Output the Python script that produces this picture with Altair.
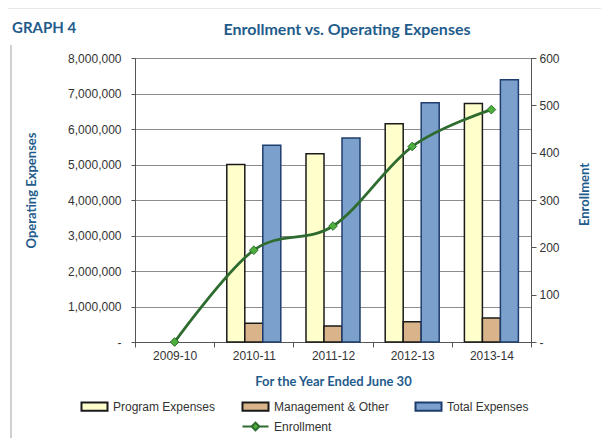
import altair as alt
import pandas as pd

years = ["2009-10", "2010-11", "2011-12", "2012-13", "2013-14"]
bar_years = ["2010-11", "2011-12", "2012-13", "2013-14"]
program = [5000000, 5300000, 6150000, 6720000]
management = [530000, 450000, 570000, 675000]
total = [5540000, 5750000, 6740000, 7390000]
enrollment = [0, 194, 245, 413, 491]

series = ["Program Expenses", "Management & Other", "Total Expenses", " ", "Enrollment"]
fills = ["#FFFFCC", "#D9B48A", "#7BA0CB", "transparent", "#4CAF3C"]
strokes = ["#1A1A1A", "#1A1A1A", "#1F3D6E", "transparent", "#2E6B2E"]
rect_path = "M-1.4,-0.45H1.4V0.45H-1.4Z"
line_path = "M-1.4,0H-0.42L0,-0.42L0.42,0L0,0.42L-0.42,0ZM0.42,0H1.4"
shapes = [rect_path, rect_path, rect_path, rect_path, line_path]

rows = []
for i, y in enumerate(bar_years):
    rows.append({"year": y, "series": series[0], "value": program[i]})
    rows.append({"year": y, "series": series[1], "value": management[i]})
    rows.append({"year": y, "series": series[2], "value": total[i]})
bars_df = pd.DataFrame(rows)
enr_df = pd.DataFrame({"year": years, "enrollment": enrollment})

BLUE = "#1F5C8C"
LABEL_FONT = "Liberation Sans"
TITLE_FONT = "Lato"

x_enc = alt.X("year:N", scale=alt.Scale(domain=years, paddingInner=0, paddingOuter=0),
              axis=alt.Axis(title="For the Year Ended June 30", labelAngle=0, tickBand="extent",
                            titleY=39, titleBaseline="middle", labelPadding=3, tickSize=5))

fill_scale = alt.Scale(domain=series, range=fills)
stroke_scale = alt.Scale(domain=series, range=strokes)

bars = alt.Chart(bars_df).mark_bar(strokeWidth=1.5).encode(
    x=x_enc,
    xOffset=alt.XOffset("series:N", scale=alt.Scale(domain=series[:3], paddingInner=0, paddingOuter=0.7)),
    y=alt.Y("value:Q", scale=alt.Scale(domain=[0, 8000000], nice=False),
            axis=alt.Axis(title="Operating Expenses", values=list(range(0, 8000001, 1000000)),
                          labelExpr="datum.value == 0 ? '-' : format(datum.value, ',')",
                          grid=True, gridColor="#8C8C8C", tickSize=4, labelPadding=10,
                          titleX=-104, titleY=132, titleAngle=270, titleBaseline="middle",
                          titleAlign="center")),
    fill=alt.Fill("series:N", scale=fill_scale, legend=alt.Legend(title=None)),
    stroke=alt.Stroke("series:N", scale=stroke_scale, legend=alt.Legend(title=None)),
    strokeWidth=alt.StrokeWidth("series:N", scale=alt.Scale(domain=series[:3], range=[1.5, 1.5, 3]), legend=None),
)

line = alt.Chart(enr_df).mark_line(color="#2E6B2E", strokeWidth=2.8, interpolate="cardinal").encode(
    x=alt.X("year:N"),
    y=alt.Y("enrollment:Q", scale=alt.Scale(domain=[0, 600], nice=False),
            axis=alt.Axis(title="Enrollment", orient="right", values=list(range(0, 601, 100)),
                          labelExpr="datum.value == 0 ? '-' : format(datum.value, ',')",
                          grid=False, tickSize=5, labelPadding=3,
                          titleX=53, titleY=136, titleAngle=270, titleBaseline="middle",
                          titleAlign="center")),
)
points = alt.Chart(enr_df).mark_point(shape="diamond", filled=True, size=75, fill="#4CAF3C",
                                      stroke="#2E6B2E", strokeWidth=1, opacity=1).encode(
    x=alt.X("year:N"),
    y=alt.Y("enrollment:Q"),
)

legend_layer = alt.Chart(enr_df).transform_filter("false").mark_point(filled=True, opacity=1).encode(
    fill=alt.Fill("series:N", scale=fill_scale, legend=alt.Legend(title=None)),
    stroke=alt.Stroke("series:N", scale=stroke_scale, legend=alt.Legend(title=None)),
    shape=alt.Shape("series:N", scale=alt.Scale(domain=series, range=shapes), legend=alt.Legend(title=None)),
)

label_df = pd.DataFrame({"t": ["GRAPH 4"]})
title_df = pd.DataFrame({"t": ["Enrollment vs. Operating Expenses"]})
graph_label = alt.Chart(label_df).mark_text(align="left", baseline="middle", font=TITLE_FONT,
                                             fontWeight="bold", fontSize=15, color=BLUE).encode(
    text="t:N", x=alt.value(-123), y=alt.value(-30))
main_title = alt.Chart(title_df).mark_text(align="center", baseline="middle", font=TITLE_FONT,
                                            fontWeight="bold", fontSize=16, color=BLUE).encode(
    text="t:N", x=alt.value(212), y=alt.value(-28))

deco_v = alt.Chart(label_df).mark_rule(color="#D0D0D0", strokeWidth=2).encode(
    x=alt.value(-124), y=alt.value(-13), y2=alt.value(380))
deco_h = alt.Chart(label_df).mark_rule(color="#E0E0E0", strokeWidth=1.5).encode(
    x=alt.value(-135), x2=alt.value(470), y=alt.value(-50))

chart = alt.layer(
    bars, alt.layer(line, points), legend_layer, graph_label, main_title, deco_v, deco_h
).resolve_scale(y="independent").properties(
    width=396, height=284,
    autosize=alt.AutoSizeParams(type="none"),
    padding={"left": 127, "top": 50, "right": 70, "bottom": 96},
).configure_view(stroke="#555555", strokeWidth=1).configure_axis(
    labelFont=LABEL_FONT, labelFontSize=12, labelColor="#333333",
    titleFont=TITLE_FONT, titleFontSize=13, titleFontWeight="bold", titleColor=BLUE,
    domainColor="#555555", tickColor="#555555",
).configure_legend(
    orient="none", legendX=-51, legendY=338, direction="horizontal", columns=3,
    labelFont=LABEL_FONT, labelFontSize=12, labelColor="#333333",
    symbolSize=345, symbolStrokeWidth=2, labelOffset=8, columnPadding=22, rowPadding=1,
    padding=0,
)

chart.save("out.html", embed_options={"renderer": "svg", "actions": False})
